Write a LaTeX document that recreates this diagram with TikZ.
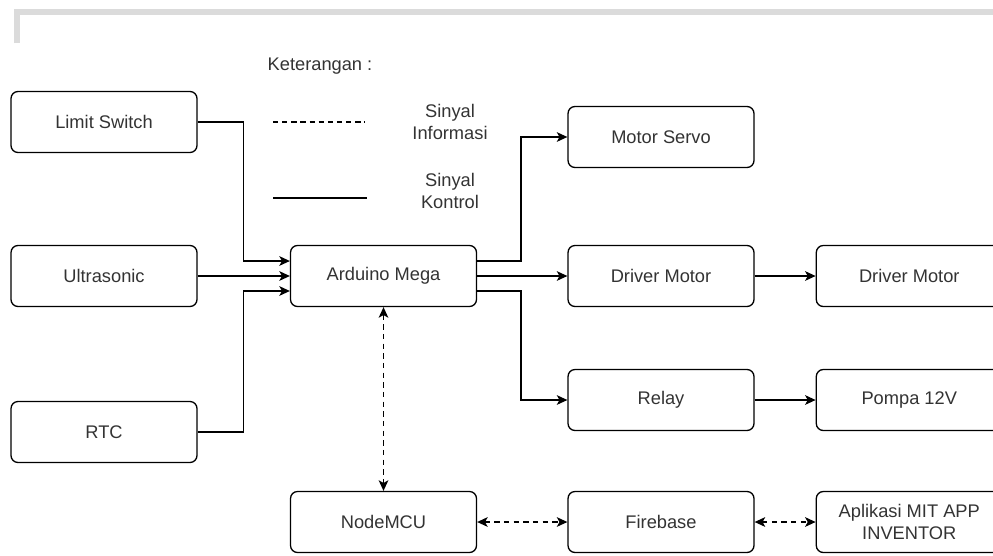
\documentclass[tikz,border=0pt]{standalone}
\usepackage{fontspec}
\setmainfont{Liberation Sans}
\usetikzlibrary{positioning}
\usetikzlibrary{arrows.meta}
\tikzset{
  every node/.append style={font=\fontsize{10.4}{12.5}\selectfont,text=black!80},
  block/.style={rectangle,draw,line width=0.75pt,rounded corners=1.4mm,
    align=center,minimum width=3.72cm,minimum height=1.22cm,node distance=1.22cm},
  ctrl/.style={-{Stealth[length=6pt,width=5.5pt,inset=1.5pt]},line width=0.75pt},
  info/.style={{Stealth[length=6pt,width=5.5pt,inset=1.5pt]}-{Stealth[length=6pt,width=5.5pt,inset=1.5pt]},
    line width=0.75pt,dash pattern=on 3pt off 2.5pt},
  legend/.style={align=center}
}

\begin{document}
\begin{tikzpicture}[x=0.02cm,y=-0.02cm]
  \useasboundingbox (0,0) rectangle (993,555);
  \clip (0,0) rectangle (993,555);
  \draw[gray!28,line width=3pt] (17,43) -- (17,12) -- (1000,12);

  \node (ket) at (320,66) {Keterangan :};
  \coordinate (i1) at (273,122);
  \coordinate (i2) at (365,122);
  \coordinate (k1) at (273,198);
  \coordinate (k2) at (367,198);
  \draw[line width=0.6pt,dash pattern=on 3pt off 2.2pt] (i1) -- (i2);
  \draw[line width=0.75pt] (k1) -- (k2);
  \node (inf) [legend] at (450,122) {Sinyal\\Informasi};
  \node (kon) [legend] at (450,191) {Sinyal\\Kontrol};

  \node (ls) [block] at (104,122) {Limit Switch};
  \node (us) [block] at (104,276) {Ultrasonic};
  \node (rtc) [block] at (104,432) {RTC};
  \node (ard) [block] at (383.5,276) {Arduino Mega};
  \node (nmcu) [block] at (383.5,522) {NodeMCU};
  \node (servo) [block] at (661,137) {Motor Servo};
  \node (drv) [block] at (661,276) {Driver Motor};
  \node (relay) [block] at (661,400) {Relay};
  \node (fb) [block] at (661,522) {Firebase};
  \node (drv2) [block,right=of drv] {Driver Motor};
  \node (pump) [block,right=of relay] {Pompa 12V};
  \node (app) [block,right=of fb] {Aplikasi MIT APP\\INVENTOR};

  \draw[ctrl] (ls.east) -- ++(46,0) |- ([yshift=3mm]ard.west);
  \draw[ctrl] (us) -- (ard);
  \draw[ctrl] (rtc.east) -- ++(46,0) |- ([yshift=-3mm]ard.west);
  \draw[ctrl] ([yshift=3mm]ard.east) -- ++(44,0) |- (servo);
  \draw[ctrl] (ard) -- (drv);
  \draw[ctrl] ([yshift=-3mm]ard.east) -- ++(44,0) |- (relay);
  \draw[ctrl] (drv) -- (drv2);
  \draw[ctrl] (relay) -- (pump);
  \draw[info] (ard) -- (nmcu);
  \draw[info] (nmcu) -- (fb);
  \draw[info] (fb) -- (app);
\end{tikzpicture}
\end{document}
